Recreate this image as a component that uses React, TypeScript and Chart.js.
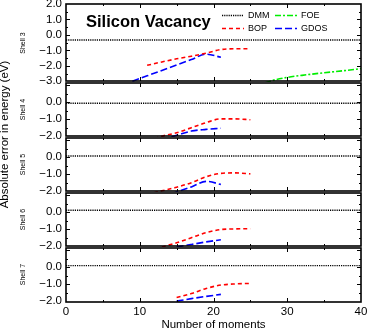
import React, { useEffect, useRef } from 'react';
import { Chart, registerables } from 'chart.js';

Chart.register(...registerables);

// ---------- data ----------
const xTickValues = [0, 10, 20, 30, 40];
const shellNames = ['Shell 3', 'Shell 4', 'Shell 5', 'Shell 6', 'Shell 7'];
const topTickValues = [2, 1, 0, -1, -2, -3];
const lowerTickValues = [0, -1, -2];
const topRange = [-3.05, 2.0];
const lowerRange = [-2.05, 1.2];

const dmmX = [0, 40];
const dmmLevels = [-0.33, -0.06, 0.08, 0.12, 0.1];

const bopX3 = [11, 13, 15, 17, 19, 21, 23, 25];
const bopY3 = [-1.97, -1.75, -1.55, -1.38, -1.18, -0.95, -0.9, -0.9];
const gdosX3 = [9, 11, 13, 15, 17, 19, 21];
const gdosY3 = [-3.0, -2.65, -2.3, -1.95, -1.6, -1.25, -1.45];
const foeX3 = [27, 28, 30, 32, 35, 38, 40];
const foeY3 = [-3.1, -2.95, -2.75, -2.62, -2.45, -2.3, -2.18];

const bopX4 = [12, 13, 15, 17, 19, 21, 23, 25];
const bopY4 = [-2.15, -2.0, -1.8, -1.5, -1.2, -0.98, -0.98, -1.03];
const gdosX4 = [13, 15, 17, 19, 21];
const gdosY4 = [-2.2, -1.95, -1.7, -1.6, -1.53];

const bopX5 = [11, 13, 15, 17, 19, 21, 23, 25];
const bopY5 = [-2.2, -1.98, -1.77, -1.5, -1.15, -0.95, -0.92, -0.98];
const gdosX5 = [13, 15, 17, 19, 21];
const gdosY5 = [-2.35, -2.05, -1.75, -1.42, -1.6];

const bopX6 = [13, 15, 17, 19, 21, 23, 25];
const bopY6 = [-2.05, -1.8, -1.5, -1.2, -1.02, -0.98, -0.97];
const gdosX6 = [15, 17, 19, 21];
const gdosY6 = [-2.05, -1.9, -1.75, -1.62];

const bopX7 = [15, 17, 19, 21, 23, 25];
const bopY7 = [-1.78, -1.55, -1.25, -1.05, -0.98, -0.95];
const gdosX7 = [15, 17, 19, 21];
const gdosY7 = [-2.0, -1.85, -1.72, -1.6];

const bopXs = [bopX3, bopX4, bopX5, bopX6, bopX7];
const bopYs = [bopY3, bopY4, bopY5, bopY6, bopY7];
const gdosXs = [gdosX3, gdosX4, gdosX5, gdosX6, gdosX7];
const gdosYs = [gdosY3, gdosY4, gdosY5, gdosY6, gdosY7];

// ---------- styles ----------
const FONT = '"Liberation Sans", Arial, Helvetica, sans-serif';
const seriesStyle: Record<string, { color: string; dash: number[]; width: number }> = {
  DMM: { color: '#000000', dash: [1.2, 1], width: 1.4 },
  BOP: { color: '#ff0000', dash: [4, 3], width: 1.6 },
  FOE: { color: '#00ee00', dash: [6, 2, 2, 2], width: 1.6 },
  GDOS: { color: '#0000ff', dash: [7, 3], width: 1.6 },
};

const panelIds = ['y1', 'y2', 'y3', 'y4', 'y5'];

const pts = (xs: number[], ys: number[]) => xs.map((x, i) => ({ x, y: ys[i] }));

function mkDataset(name: string, data: { x: number; y: number }[], yAxisID: string) {
  const st = seriesStyle[name];
  return {
    label: name,
    data,
    xAxisID: 'x',
    yAxisID,
    borderColor: st.color,
    backgroundColor: st.color,
    borderDash: st.dash,
    borderWidth: st.width,
    pointRadius: 0,
    fill: false,
    clip: 0,
    cubicInterpolationMode: 'monotone' as const,
  };
}

const fmt = (v: number) => (v < 0 ? '\u2212' : '') + Math.abs(v).toFixed(1);

const decorPlugin = {
  id: 'decor',
  afterDatasetsDraw(chart: any) {
    const ctx = chart.ctx;
    const xs = chart.scales.x;
    const left = Math.round(xs.left);
    const right = Math.round(xs.right);
    ctx.save();
    ctx.strokeStyle = '#000';
    const line = (x1: number, y1: number, x2: number, y2: number) => {
      ctx.beginPath();
      ctx.moveTo(x1, y1);
      ctx.lineTo(x2, y2);
      ctx.stroke();
    };
    panelIds.forEach((id, i) => {
      const s = chart.scales[id];
      const top = Math.round(s.top) + (i > 0 ? 1 : 0);
      const bottom = Math.round(s.bottom) - (i < panelIds.length - 1 ? 1 : 0);
      ctx.lineWidth = 1.6;
      ctx.strokeRect(left, top, right - left, bottom - top);
      ctx.lineWidth = 1;
      for (let v = Math.ceil(s.min * 2) / 2; v <= s.max + 1e-9; v += 0.5) {
        const y = Math.round(s.getPixelForValue(v)) + 0.5;
        if (y < top + 2 || y > bottom - 2) continue;
        const len = Math.abs(v - Math.round(v)) < 1e-9 ? 4 : 2;
        line(left, y, left + len, y);
        line(right - len, y, right, y);
      }
      for (let v = 5; v < 40; v += 5) {
        const x = Math.round(xs.getPixelForValue(v)) + 0.5;
        const len = v % 10 === 0 ? 4 : 2;
        line(x, top, x, top + len);
        line(x, bottom - len, x, bottom);
      }
    });
    ctx.restore();
  },
  afterDraw(chart: any) {
    const ctx = chart.ctx;
    ctx.save();
    ctx.fillStyle = '#000';
    ctx.font = `11.5px ${FONT}`;
    ctx.textAlign = 'center';
    ctx.textBaseline = 'middle';
    ctx.translate(5, 134.5);
    ctx.rotate(-Math.PI / 2);
    ctx.fillText('Absolute error in energy (eV)', 0, 0);
    ctx.restore();

    ctx.save();
    ctx.fillStyle = '#000';
    ctx.font = `bold 16.5px ${FONT}`;
    ctx.textAlign = 'left';
    ctx.textBaseline = 'middle';
    ctx.fillText('Silicon Vacancy', 86, 22.5);
    const legend = [
      { name: 'DMM', x: 222, y: 15.5 },
      { name: 'BOP', x: 222, y: 28.5 },
      { name: 'FOE', x: 275, y: 15.5 },
      { name: 'GDOS', x: 275, y: 28.5 },
    ];
    ctx.font = `9px ${FONT}`;
    legend.forEach((it) => {
      const st = seriesStyle[it.name];
      ctx.strokeStyle = st.color;
      ctx.lineWidth = st.width;
      ctx.setLineDash(st.dash);
      ctx.beginPath();
      ctx.moveTo(it.x, it.y);
      ctx.lineTo(it.x + 22, it.y);
      ctx.stroke();
      ctx.setLineDash([]);
      ctx.fillText(it.name, it.x + 26, it.y);
    });
    ctx.restore();
  },
};

export default function App() {
  const canvasRef = useRef<HTMLCanvasElement | null>(null);

  useEffect(() => {
    if (!canvasRef.current) return;
    const datasets: any[] = [];
    panelIds.forEach((id, i) => {
      datasets.push(mkDataset('DMM', pts(dmmX, dmmX.map(() => dmmLevels[i])), id));
      datasets.push(mkDataset('BOP', pts(bopXs[i], bopYs[i]), id));
      datasets.push(mkDataset('GDOS', pts(gdosXs[i], gdosYs[i]), id));
      if (i === 0) datasets.push(mkDataset('FOE', pts(foeX3, foeY3), id));
    });

    const scales: any = {
      x: {
        type: 'linear',
        position: 'bottom',
        min: 0,
        max: 40,
        grid: { display: false, drawTicks: false, tickLength: 0 },
        border: { display: false },
        afterBuildTicks: (s: any) => {
          s.ticks = xTickValues.map((v) => ({ value: v }));
        },
        afterFit: (s: any) => {
          s.height = 28;
          s.paddingLeft = 0;
          s.paddingRight = 0;
        },
        ticks: {
          padding: 3,
          autoSkip: false,
          color: '#000',
          font: { family: FONT, size: 11.5 },
          maxRotation: 0,
          callback: (v: any) => String(v),
        },
        title: {
          display: true,
          text: 'Number of moments',
          color: '#000',
          font: { family: FONT, size: 11.5, lineHeight: 1 },
          padding: { top: 0, bottom: -1 },
        },
      },
    };
    panelIds.forEach((id, i) => {
      const isTop = i === 0;
      const range = isTop ? topRange : lowerRange;
      const tv = isTop ? topTickValues : lowerTickValues;
      scales[id] = {
        type: 'linear',
        position: 'left',
        stack: 'panels',
        stackWeight: isTop ? 78 : 55,
        weight: panelIds.length - i,
        min: range[0],
        max: range[1],
        grid: { display: false, drawTicks: false, tickLength: 0 },
        border: { display: false },
        afterBuildTicks: (s: any) => {
          s.ticks = tv.map((v) => ({ value: v }));
        },
        afterFit: (s: any) => {
          s.width = 66;
          s.paddingTop = 0;
          s.paddingBottom = 0;
        },
        ticks: {
          padding: 4,
          autoSkip: false,
          color: '#000',
          font: { family: FONT, size: 11.5 },
          callback: (v: any) => fmt(Number(v)),
        },
        title: {
          display: true,
          text: shellNames[i],
          color: '#000',
          font: { family: FONT, size: 7 },
          padding: { top: 19, bottom: 0 },
        },
      };
    });

    const chart = new Chart(canvasRef.current, {
      type: 'line',
      data: { datasets },
      options: {
        animation: false,
        responsive: false,
        maintainAspectRatio: false,
        layout: { padding: { top: 4, right: 6, left: 0, bottom: 0 } },
        plugins: { legend: { display: false }, tooltip: { enabled: false } },
        scales,
      },
      plugins: [decorPlugin],
    } as any);
    return () => chart.destroy();
  }, []);

  return (
    <div style={{ position: 'absolute', left: 0, top: 0, width: 367, height: 330, background: '#fff' }}>
      <canvas ref={canvasRef} width={367} height={330} style={{ display: 'block' }} />
    </div>
  );
}
